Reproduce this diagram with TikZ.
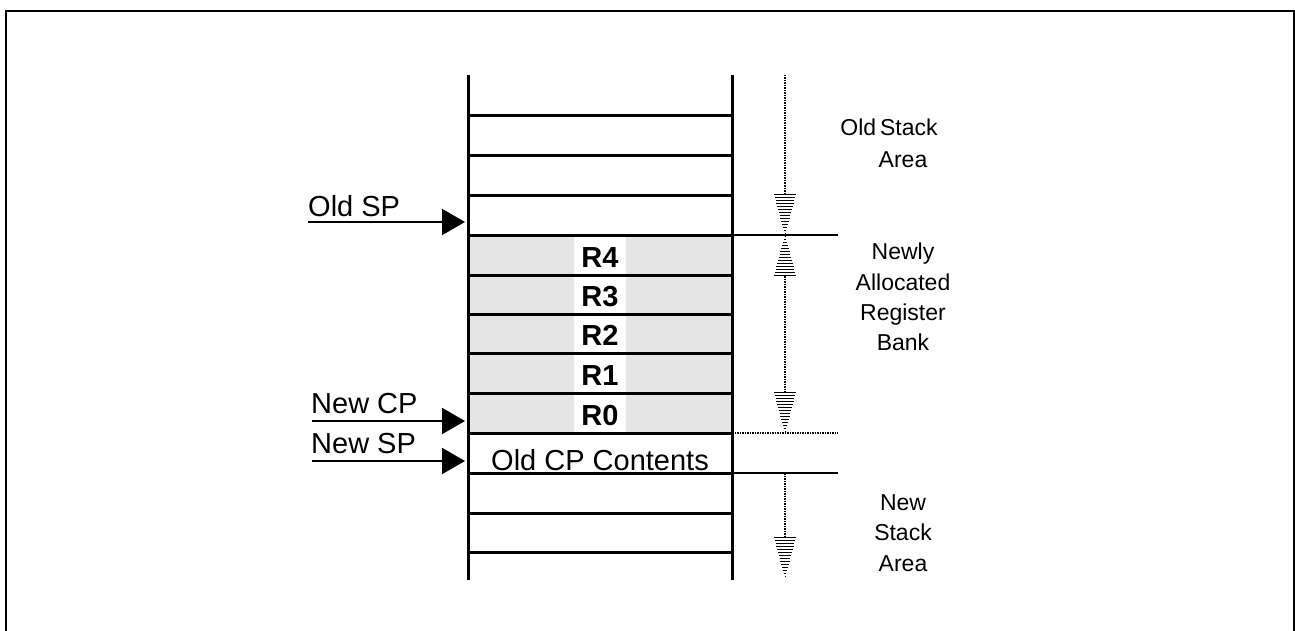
\documentclass[tikz,border=0pt]{standalone}
\usepackage{fontspec}
\setmainfont{Liberation Sans}
\usetikzlibrary{arrows.meta}
\definecolor{bankgray}{HTML}{E5E5E5}
\begin{document}
\begin{tikzpicture}[x=1pt,y=-1pt,
  cellline/.style={line width=3pt},
  wall/.style={line width=3pt},
  lbl/.style={font=\fontsize{29}{33}\selectfont, inner sep=0pt},
  reg/.style={font=\bfseries\fontsize{29}{33}\selectfont, inner sep=0pt},
  side/.style={font=\fontsize{23}{30}\selectfont, inner sep=0pt},
  ptr/.style={line width=2pt, -{Triangle[length=23pt,width=26pt]}},
  dimline/.style={line width=2pt, dash pattern=on 1.5pt off 1pt},
  bound/.style={line width=2pt},
  hatch/.pic={\foreach \d in {1.5,4.5,...,40.5} \draw[line width=1.7pt] (-11.5*\d/42,-\d) -- (11.5*\d/42,-\d);}
]
\useasboundingbox (0,0) rectangle (1295,631);
% frame
\draw[line width=2pt] (6,640) -- (6,11) -- (1294,11) -- (1294,640);
% register bank
\foreach \t/\b/\r in {235/275/R4, 275/314/R3, 314/353/R2, 353/393/R1, 393/433/R0} {
  \fill[bankgray] (468,\t) rectangle (732,\b);
  \fill[white] (574,\t) rectangle (626,\b);
  \node[reg, anchor=base] (\r) at (600,\b-8) {\r};
}
\foreach \y in {116,156,196,235,275,314,353,393,433,473,513,552}
  \draw[cellline] (468,\y) -- (732,\y);
\coordinate (LT) at (468,75); \coordinate (LB) at (468,580);
\coordinate (RT) at (732,75); \coordinate (RB) at (732,580);
\draw[wall] (LT) -- (LB);
\draw[wall] (RT) -- (RB);
\node[lbl, anchor=base] (oldcp) at (600,470) {Old CP Contents};
% pointers
\node[lbl, anchor=base west] (oldsp) at (308,216) {Old SP};
\coordinate (oldspA) at (308,222); \coordinate (oldspB) at (465,222);
\draw[ptr] (oldspA) -- (oldspB);
\node[lbl, anchor=base west] (newcp) at (311,413) {New CP};
\coordinate (newcpA) at (312,421); \coordinate (newcpB) at (465,421);
\draw[ptr] (newcpA) -- (newcpB);
\node[lbl, anchor=base west] (newsp) at (311,453) {New SP};
\coordinate (newspA) at (312,461); \coordinate (newspB) at (465,461);
\draw[ptr] (newspA) -- (newspB);
% boundaries on the right
\coordinate (b1a) at (732,235); \coordinate (b1b) at (838,235);
\coordinate (b2a) at (732,433); \coordinate (b2b) at (838,433);
\coordinate (b3a) at (732,473); \coordinate (b3b) at (838,473);
\draw[bound] (b1a) -- (b1b);
\draw[dimline] (b2a) -- (b2b);
\draw[bound] (b3a) -- (b3b);
% extent arrows
\coordinate (d0) at (785,75); \coordinate (d1) at (785,194);
\draw[dimline] (d0) -- (d1);
\pic at (785,235) {hatch};
\pic[yscale=-1] at (785,235) {hatch};
\coordinate (d2) at (785,276); \coordinate (d3) at (785,392);
\draw[dimline] (d2) -- (d3);
\pic at (785,433) {hatch};
\coordinate (d4) at (785,473); \coordinate (d5) at (785,537);
\draw[dimline] (d4) -- (d5);
\pic at (785,578) {hatch};
% right labels
\node[side, anchor=base] (os1) at (889,136) {Old\,Stack};
\node[side, anchor=base] (os2) at (903,168) {Area};
\node[side, anchor=base] (nb1) at (903,259) {Newly};
\node[side, anchor=base] (nb2) at (903,290) {Allocated};
\node[side, anchor=base] (nb3) at (903,320) {Register};
\node[side, anchor=base] (nb4) at (903,350) {Bank};
\node[side, anchor=base] (ns1) at (903,510) {New};
\node[side, anchor=base] (ns2) at (903,540) {Stack};
\node[side, anchor=base] (ns3) at (903,571) {Area};
\end{tikzpicture}
\end{document}
